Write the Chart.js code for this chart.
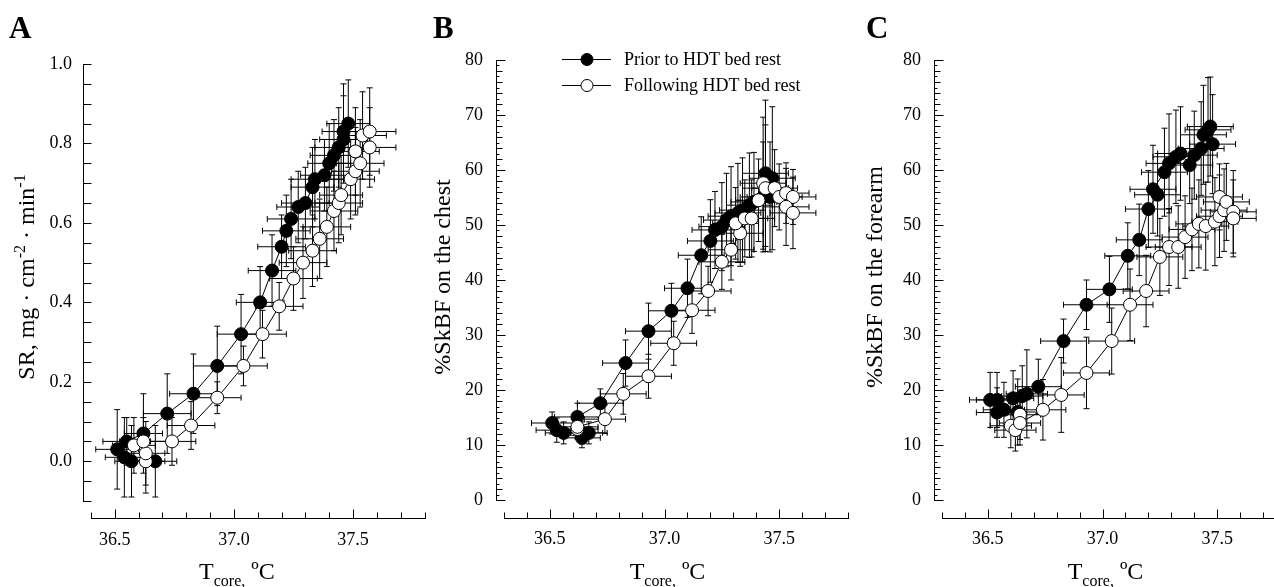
<!DOCTYPE html>
<html>
<head>
<meta charset="utf-8">
<script src="https://cdn.jsdelivr.net/npm/chart.js@4.4.1/dist/chart.umd.min.js"></script>
<style>
  html, body { margin:0; padding:0; background:#fff; }
  body { width:1274px; height:587px; position:relative; overflow:hidden; }
  canvas { position:absolute; top:0; }
</style>
</head>
<body>
<canvas id="chartA" width="432" height="587" style="left:0px"></canvas>
<canvas id="chartB" width="432" height="587" style="left:425px"></canvas>
<canvas id="chartC" width="440" height="587" style="left:855px"></canvas>
<script>
/* ---- data: core temperature (T) vs response, mean ± SD ---- */

// A: sweat rate
const aPriorT    = [36.67,36.57,36.54,36.51,36.55,36.62,36.72,36.83,36.93,37.03,37.11,37.16,37.20,37.22,37.24,37.27,37.30,37.33,37.34,37.38,37.40,37.42,37.44,37.46,37.46,37.48];
const aPriorSR   = [0.00,0.00,0.01,0.03,0.05,0.07,0.12,0.17,0.24,0.32,0.40,0.48,0.54,0.58,0.61,0.64,0.65,0.69,0.71,0.72,0.75,0.77,0.79,0.81,0.83,0.85];
const aPriorTSd  = [0.09,0.07,0.08,0.09,0.10,0.08,0.10,0.10,0.10,0.10,0.10,0.10,0.10,0.10,0.10,0.09,0.10,0.09,0.10,0.10,0.09,0.10,0.10,0.10,0.09,0.09];
const aPriorSRSd = [0.09,0.09,0.10,0.10,0.06,0.10,0.10,0.10,0.10,0.10,0.09,0.09,0.08,0.09,0.10,0.09,0.09,0.10,0.10,0.09,0.10,0.09,0.10,0.11,0.12,0.11];

const aPostT     = [36.63,36.63,36.58,36.62,36.74,36.82,36.93,37.04,37.12,37.19,37.25,37.29,37.33,37.36,37.39,37.42,37.44,37.45,37.49,37.51,37.53,37.51,37.57,37.54,37.57];
const aPostSR    = [0.00,0.02,0.04,0.05,0.05,0.09,0.16,0.24,0.32,0.39,0.46,0.50,0.53,0.56,0.59,0.63,0.65,0.67,0.71,0.73,0.75,0.78,0.79,0.82,0.83];
const aPostTSd   = [0.08,0.08,0.09,0.10,0.10,0.10,0.10,0.10,0.10,0.10,0.10,0.10,0.10,0.10,0.10,0.10,0.10,0.09,0.10,0.10,0.10,0.10,0.11,0.10,0.11];
const aPostSRSd  = [0.08,0.08,0.07,0.06,0.06,0.06,0.04,0.05,0.06,0.06,0.08,0.09,0.09,0.10,0.10,0.10,0.10,0.10,0.10,0.11,0.11,0.11,0.10,0.11,0.11];

// B: %SkBF, chest
const bPriorT    = [36.51,36.53,36.56,36.64,36.67,36.64,36.62,36.72,36.83,36.93,37.03,37.10,37.16,37.20,37.22,37.25,37.27,37.29,37.32,37.34,37.37,37.39,37.43,37.46,37.47,37.44];
const bPriorBF   = [14.0,12.7,12.2,11.3,12.2,12.2,15.1,17.6,24.9,30.7,34.4,38.5,44.5,47.1,49.1,49.7,50.9,51.6,52.2,52.7,53.6,54.2,55.1,55.1,58.5,59.4];
const bPriorTSd  = [0.09,0.09,0.08,0.08,0.08,0.09,0.10,0.10,0.10,0.10,0.10,0.10,0.10,0.10,0.10,0.10,0.10,0.10,0.10,0.10,0.10,0.10,0.10,0.10,0.10,0.10];
const bPriorBFSd = [2.0,2.2,2.0,1.8,2.0,2.0,2.5,2.6,4.2,5.1,5.0,5.3,7.0,7.5,7.0,8.0,8.5,9.0,9.0,9.5,9.5,9.0,10.0,10.0,13.0,13.3];

const bPostT     = [36.62,36.62,36.74,36.82,36.93,37.04,37.12,37.19,37.25,37.29,37.33,37.31,37.35,37.38,37.41,37.43,37.44,37.48,37.50,37.53,37.56,37.53,37.56];
const bPostBF    = [12.9,13.3,14.7,19.3,22.5,28.5,34.5,38.0,43.3,45.5,48.5,50.3,51.2,51.2,54.5,57.6,56.7,56.7,55.1,55.8,55.1,53.3,52.2];
const bPostTSd   = [0.09,0.09,0.09,0.10,0.10,0.10,0.10,0.10,0.10,0.10,0.10,0.10,0.10,0.10,0.10,0.10,0.10,0.10,0.10,0.10,0.10,0.10,0.10];
const bPostBFSd  = [1.8,2.0,2.6,3.7,4.0,4.0,4.2,4.5,5.0,5.5,6.0,6.5,7.0,7.0,7.5,12.0,11.5,7.0,6.0,5.5,5.0,7.0,6.5];

// C: %SkBF, forearm
const cPriorT    = [36.54,36.51,36.54,36.57,36.63,36.61,36.65,36.67,36.72,36.83,36.93,37.03,37.11,37.16,37.20,37.24,37.22,37.27,37.29,37.32,37.34,37.38,37.40,37.43,37.44,37.46,37.47,37.48];
const cPriorBF   = [15.9,18.2,18.2,16.4,16.0,18.5,18.9,19.3,20.6,28.9,35.5,38.3,44.4,47.3,52.9,55.5,56.5,59.6,61.2,62.4,63.0,60.9,62.7,63.9,66.4,67.3,67.9,64.7];
const cPriorTSd  = [0.09,0.09,0.09,0.09,0.09,0.09,0.09,0.09,0.10,0.10,0.10,0.10,0.10,0.10,0.10,0.10,0.10,0.10,0.10,0.10,0.10,0.10,0.10,0.10,0.10,0.10,0.10,0.10];
const cPriorBFSd = [4.5,5.0,5.0,5.0,6.0,5.0,5.5,8.0,5.0,4.0,4.5,6.0,6.0,6.5,7.0,7.5,8.0,8.0,9.0,8.5,8.5,7.0,8.0,8.5,9.0,9.5,9.0,9.0];

const cPostT     = [36.64,36.60,36.62,36.64,36.74,36.82,36.93,37.04,37.12,37.19,37.25,37.29,37.33,37.36,37.39,37.42,37.45,37.49,37.51,37.53,37.51,37.54,37.57,37.57];
const cPostBF    = [15.5,13.5,12.7,14.0,16.4,19.1,23.1,28.9,35.5,38.0,44.2,46.0,46.0,47.8,49.2,50.2,49.8,50.6,51.6,52.7,55.1,54.2,52.4,51.2];
const cPostTSd   = [0.09,0.09,0.09,0.09,0.10,0.10,0.10,0.10,0.10,0.10,0.10,0.10,0.10,0.10,0.10,0.10,0.10,0.10,0.10,0.10,0.10,0.10,0.10,0.10];
const cPostBFSd  = [4.5,4.0,3.8,4.0,5.5,6.8,6.5,6.0,6.5,6.5,7.0,7.0,7.5,7.5,7.5,8.0,8.0,8.0,7.5,7.5,6.0,7.0,7.5,7.0];

const seriesNames = ["Prior to HDT bed rest", "Following HDT bed rest"];
const xTickLabels = ["36.5", "37.0", "37.5"];

/* ---- drawing ---- */
const SERIF = '"Liberation Serif", "Times New Roman", serif';

function pts(t, v, tSd, vSd){
  return t.map((x,i)=>({ x:x, y:v[i], xErr:tSd[i], yErr:vSd[i] }));
}

// text made of parts: [text, 0 normal | 1 superscript | -1 subscript]
function partsWidth(ctx, parts, size){
  let w = 0;
  parts.forEach(([t,k])=>{ ctx.font = (k ? Math.round(size*0.68) : size)+"px "+SERIF; w += ctx.measureText(t).width; });
  return w;
}
function drawParts(ctx, parts, x, y, size){
  parts.forEach(([t,k])=>{
    const s = k ? Math.round(size*0.68) : size;
    ctx.font = s+"px "+SERIF;
    const dy = k===1 ? -size*0.38 : k===-1 ? size*0.28 : 0;
    ctx.fillText(t, x, y+dy);
    x += ctx.measureText(t).width;
  });
}

function sigmaPlugin(cfg){
  return {
    id: "sigma"+cfg.letter,
    beforeDatasetsDraw(chart){
      const {ctx, scales:{x, y}} = chart;
      ctx.save();
      ctx.strokeStyle = "#000"; ctx.lineWidth = 1;
      chart.data.datasets.forEach(ds=>{
        ds.data.forEach(p=>{
          const px = x.getPixelForValue(p.x), py = y.getPixelForValue(p.y);
          const x0 = x.getPixelForValue(p.x - p.xErr), x1 = x.getPixelForValue(p.x + p.xErr);
          const y0 = y.getPixelForValue(p.y - p.yErr), y1 = y.getPixelForValue(p.y + p.yErr);
          ctx.beginPath();
          ctx.moveTo(x0, py); ctx.lineTo(x1, py);
          ctx.moveTo(x0, py-3); ctx.lineTo(x0, py+3);
          ctx.moveTo(x1, py-3); ctx.lineTo(x1, py+3);
          ctx.moveTo(px, y0); ctx.lineTo(px, y1);
          ctx.moveTo(px-3, y0); ctx.lineTo(px+3, y0);
          ctx.moveTo(px-3, y1); ctx.lineTo(px+3, y1);
          ctx.stroke();
        });
      });
      ctx.restore();
    },
    afterDraw(chart){
      const {ctx, chartArea:area, scales:{x, y}} = chart;
      ctx.save();
      ctx.strokeStyle = "#000"; ctx.fillStyle = "#000"; ctx.lineWidth = 1;

      // detached axes, ticks pointing inward
      const ax = Math.round(area.left - 8) + 0.5;
      const ay = Math.round(area.bottom + cfg.xGap) + 0.5;
      ctx.beginPath();
      ctx.moveTo(ax, Math.round(y.getPixelForValue(y.max))); ctx.lineTo(ax, Math.round(y.getPixelForValue(y.min))+1);
      ctx.moveTo(Math.round(x.getPixelForValue(x.min)), ay); ctx.lineTo(Math.round(x.getPixelForValue(x.max))+1, ay);
      x.ticks.forEach(t=>{
        const px = Math.round(x.getPixelForValue(t.value)) + 0.5;
        const len = t.label ? 9 : 6;
        ctx.moveTo(px, ay); ctx.lineTo(px, ay - len);
      });
      y.ticks.forEach(t=>{
        const py = Math.round(y.getPixelForValue(t.value)) + 0.5;
        ctx.moveTo(ax, py); ctx.lineTo(ax + cfg.yTickLen(t.value), py);
      });
      ctx.stroke();

      // x title
      ctx.textBaseline = "alphabetic"; ctx.textAlign = "left";
      const xParts = [["T",0],["core,",-1],[" \u00baC",0]];
      const xw = partsWidth(ctx, xParts, 24);
      drawParts(ctx, xParts, x.getPixelForValue(37.0) + 3 - xw/2, 579, 24);

      // y title (rotated)
      const yw = partsWidth(ctx, cfg.yTitle, 24);
      ctx.save();
      ctx.translate(cfg.yTitleX, 277);
      ctx.rotate(-Math.PI/2);
      drawParts(ctx, cfg.yTitle, -yw/2, 0, 24);
      ctx.restore();

      // panel letter
      ctx.font = "bold 31px "+SERIF;
      ctx.fillText(cfg.letter, cfg.letterX, 38);

      // legend
      if (cfg.legend){
        const lx = cfg.legend[0], rows = [cfg.legend[1], cfg.legend[1]+26];
        chart.data.datasets.forEach((ds,i)=>{
          const ly = rows[i] + 0.5;
          ctx.beginPath();
          ctx.moveTo(lx, ly); ctx.lineTo(lx+49, ly); ctx.stroke();
          ctx.beginPath();
          ctx.arc(lx+25, ly, 6, 0, Math.PI*2);
          ctx.fillStyle = ds.backgroundColor; ctx.fill(); ctx.stroke();
          ctx.fillStyle = "#000";
          ctx.font = "18px "+SERIF; ctx.textBaseline = "middle";
          ctx.fillText(ds.label, lx+62, ly+1);
        });
      }
      ctx.restore();
    }
  };
}

function makePanel(id, cfg){
  new Chart(document.getElementById(id), {
    type: "scatter",
    data: {
      datasets: [
        { label: seriesNames[0], data: cfg.prior, showLine: true, order: 2,
          borderColor: "#000", borderWidth: 1, backgroundColor: "#000",
          pointRadius: 6.5, pointBorderWidth: 1, pointBorderColor: "#000", pointBackgroundColor: "#000" },
        { label: seriesNames[1], data: cfg.post, showLine: true, order: 1,
          borderColor: "#000", borderWidth: 1, backgroundColor: "#fff",
          pointRadius: 6.5, pointBorderWidth: 1, pointBorderColor: "#000", pointBackgroundColor: "#fff" }
      ]
    },
    options: {
      responsive: false, animation: false, devicePixelRatio: 1,
      clip: false,
      layout: { padding: { left: 0, right: cfg.padRight, top: cfg.top, bottom: 0 } },
      plugins: { legend: { display: false }, tooltip: { enabled: false } },
      scales: {
        x: {
          type: "linear", min: cfg.xMin, max: 37.8,
          // tickLength only offsets the labels (grid hidden, axis drawn by plugin)
          grid: { display: false, drawTicks: true, tickLength: 28 }, border: { display: false },
          ticks: {
            stepSize: 0.1, autoSkip: false, maxRotation: 0, padding: 0, color: "#000",
            font: { family: SERIF, size: 18 },
            callback: v => { const s = (Math.round(v*10)/10).toFixed(1); return xTickLabels.includes(s) ? s : ""; }
          },
          afterFit: s => { s.height = 587 - cfg.bottom; }
        },
        y: {
          min: cfg.yMin, max: cfg.yMax,
          grid: { display: false, drawTicks: false }, border: { display: false },
          ticks: {
            stepSize: cfg.yStep, autoSkip: false, padding: cfg.yPad, color: "#000",
            font: { family: SERIF, size: 18 },
            callback: cfg.yLabel
          },
          afterFit: s => { s.width = cfg.left; }
        }
      }
    },
    plugins: [sigmaPlugin(cfg)]
  });
}

makePanel("chartA", {
  letter: "A", letterX: 9, xMin: 36.4, left: 91, padRight: 2, top: 64, bottom: 501, xGap: 17,
  yMin: -0.1, yMax: 1.0, yStep: 0.05, yPad: 19,
  yLabel: v => { const r = Math.round(v*100); return r % 20 === 0 ? (r/100).toFixed(1) : ""; },
  yTickLen: () => 8,
  yTitle: [["SR, mg \u00b7 cm",0],["-2",1],[" \u00b7 min",0],["-1",1]], yTitleX: 34,
  prior: pts(aPriorT, aPriorSR, aPriorTSd, aPriorSRSd),
  post:  pts(aPostT, aPostSR, aPostTSd, aPostSRSd)
});

makePanel("chartB", {
  letter: "B", letterX: 8, xMin: 36.3, left: 79, padRight: 9, top: 60, bottom: 500, xGap: 18,
  yMin: 0, yMax: 80, yStep: 1, yPad: 21,
  yLabel: v => (Math.round(v) % 10 === 0 ? String(Math.round(v)) : ""),
  yTickLen: v => (Math.round(v) % 10 === 0 ? 9 : Math.round(v) % 2 === 0 ? 6 : 3),
  yTitle: [["%SkBF on the chest",0]], yTitleX: 25,
  legend: [137, 59],
  prior: pts(bPriorT, bPriorBF, bPriorTSd, bPriorBFSd),
  post:  pts(bPostT, bPostBF, bPostTSd, bPostBFSd)
});

makePanel("chartC", {
  letter: "C", letterX: 11, xMin: 36.3, left: 87, padRight: 9, top: 60, bottom: 500, xGap: 18,
  yMin: 0, yMax: 80, yStep: 1, yPad: 21,
  yLabel: v => (Math.round(v) % 10 === 0 ? String(Math.round(v)) : ""),
  yTickLen: v => (Math.round(v) % 10 === 0 ? 9 : Math.round(v) % 2 === 0 ? 6 : 3),
  yTitle: [["%SkBF on the forearm",0]], yTitleX: 27,
  prior: pts(cPriorT, cPriorBF, cPriorTSd, cPriorBFSd),
  post:  pts(cPostT, cPostBF, cPostTSd, cPostBFSd)
});
</script>
</body>
</html>
